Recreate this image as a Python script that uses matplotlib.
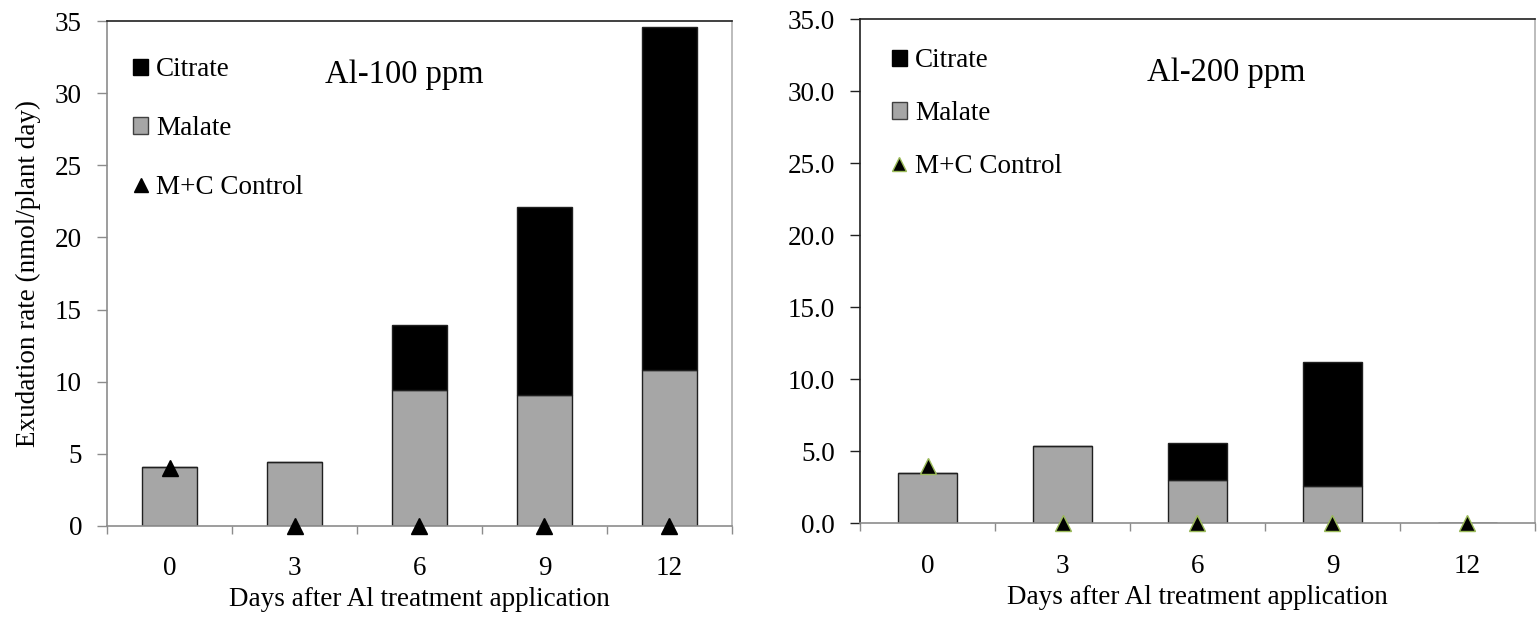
import numpy as np
import matplotlib.pyplot as plt
from matplotlib.patches import Patch
from matplotlib.lines import Line2D
from matplotlib.ticker import FormatStrFormatter, FixedLocator

plt.rcParams['font.family'] = ['Liberation Serif', 'DejaVu Serif']

days = ['0', '3', '6', '9', '12']

# Al-100 ppm
malate_100 = [4.1, 4.4, 9.4, 9.1, 10.8]
citrate_100 = [0.0, 0.0, 4.5, 13.0, 23.8]
control_100 = [4.0, 0.0, 0.0, 0.0, 0.0]

# Al-200 ppm
malate_200 = [3.5, 5.4, 3.0, 2.6, 0.0]
citrate_200 = [0.0, 0.0, 2.55, 8.6, 0.0]
control_200 = [4.0, 0.0, 0.0, 0.0, 0.0]

GREY = '#a6a6a6'
SPINE = '#8c8c8c'
FS = 19.5


def draw_panel(ax, malate, citrate, control, title, title_x, tri_edge, left_spine,
               fmt, legend_x, legend_top, legend_gap):
    x = np.arange(len(days))
    ax.bar(x, malate, width=0.44, color=GREY, edgecolor='#202020', linewidth=1.0, zorder=2)
    ax.bar(x, citrate, width=0.44, bottom=malate, color='black',
           edgecolor='#202020', linewidth=1.0, zorder=2)
    ax.plot(x, control, linestyle='none', marker='^', markersize=11,
            color='black', markeredgecolor=tri_edge, markeredgewidth=1.0,
            clip_on=False, zorder=4)

    ax.set_xlim(-0.5, 4.5)
    ax.set_ylim(0, 35)
    ax.set_yticks(np.arange(0, 36, 5))
    ax.yaxis.set_major_formatter(FormatStrFormatter(fmt))
    ax.set_xticks(x)
    ax.set_xticklabels(days)
    ax.xaxis.set_minor_locator(FixedLocator(np.arange(-0.5, 5, 1)))
    ax.tick_params(axis='x', which='major', length=0, pad=22, labelsize=FS)
    ax.tick_params(axis='x', which='minor', length=6, width=1, color=SPINE, direction='out')
    ax.tick_params(axis='y', length=7, width=1, color=left_spine, direction='out',
                   pad=11, labelsize=FS)

    ax.spines['top'].set_color('#202020')
    ax.spines['left'].set_color(left_spine)
    ax.spines['bottom'].set_color(SPINE)
    ax.spines['right'].set_color('#b0b0b0')
    for s in ax.spines.values():
        s.set_linewidth(1.2)

    ax.set_xlabel('Days after Al treatment application', fontsize=FS, labelpad=4)
    ax.text(title_x, 0.878, title, transform=ax.transAxes, fontsize=23.5, va='baseline')

    handles = [
        Patch(facecolor='black', edgecolor='black', label='Citrate'),
        Patch(facecolor=GREY, edgecolor='#404040', label='Malate'),
        Line2D([], [], linestyle='none', marker='^', markersize=10, color='black',
               markeredgecolor=tri_edge, label='M+C Control'),
    ]
    ax.legend(handles=handles, loc='upper left', bbox_to_anchor=(legend_x, legend_top),
              frameon=False, fontsize=FS, handlelength=0.55, handleheight=0.55,
              handletextpad=0.3, labelspacing=legend_gap, borderpad=0,
              borderaxespad=0)


fig = plt.figure(figsize=(15.38, 6.18), dpi=100)
ax1 = fig.add_axes([0.0696, 0.149, 0.4063, 0.817])
ax2 = fig.add_axes([0.5592, 0.153, 0.4388, 0.816])

draw_panel(ax1, malate_100, citrate_100, control_100, 'Al-100 ppm', 0.349,
           'black', SPINE, '%d', 0.042, 0.928, 1.25)
draw_panel(ax2, malate_200, citrate_200, control_200, 'Al-200 ppm', 0.425,
           '#9bbb59', '#202020', '%.1f', 0.047, 0.942, 1.02)

ax1.set_ylabel('Exudation rate (nmol/plant day)', fontsize=FS, labelpad=10)

fig.savefig('out.png', dpi=100)
